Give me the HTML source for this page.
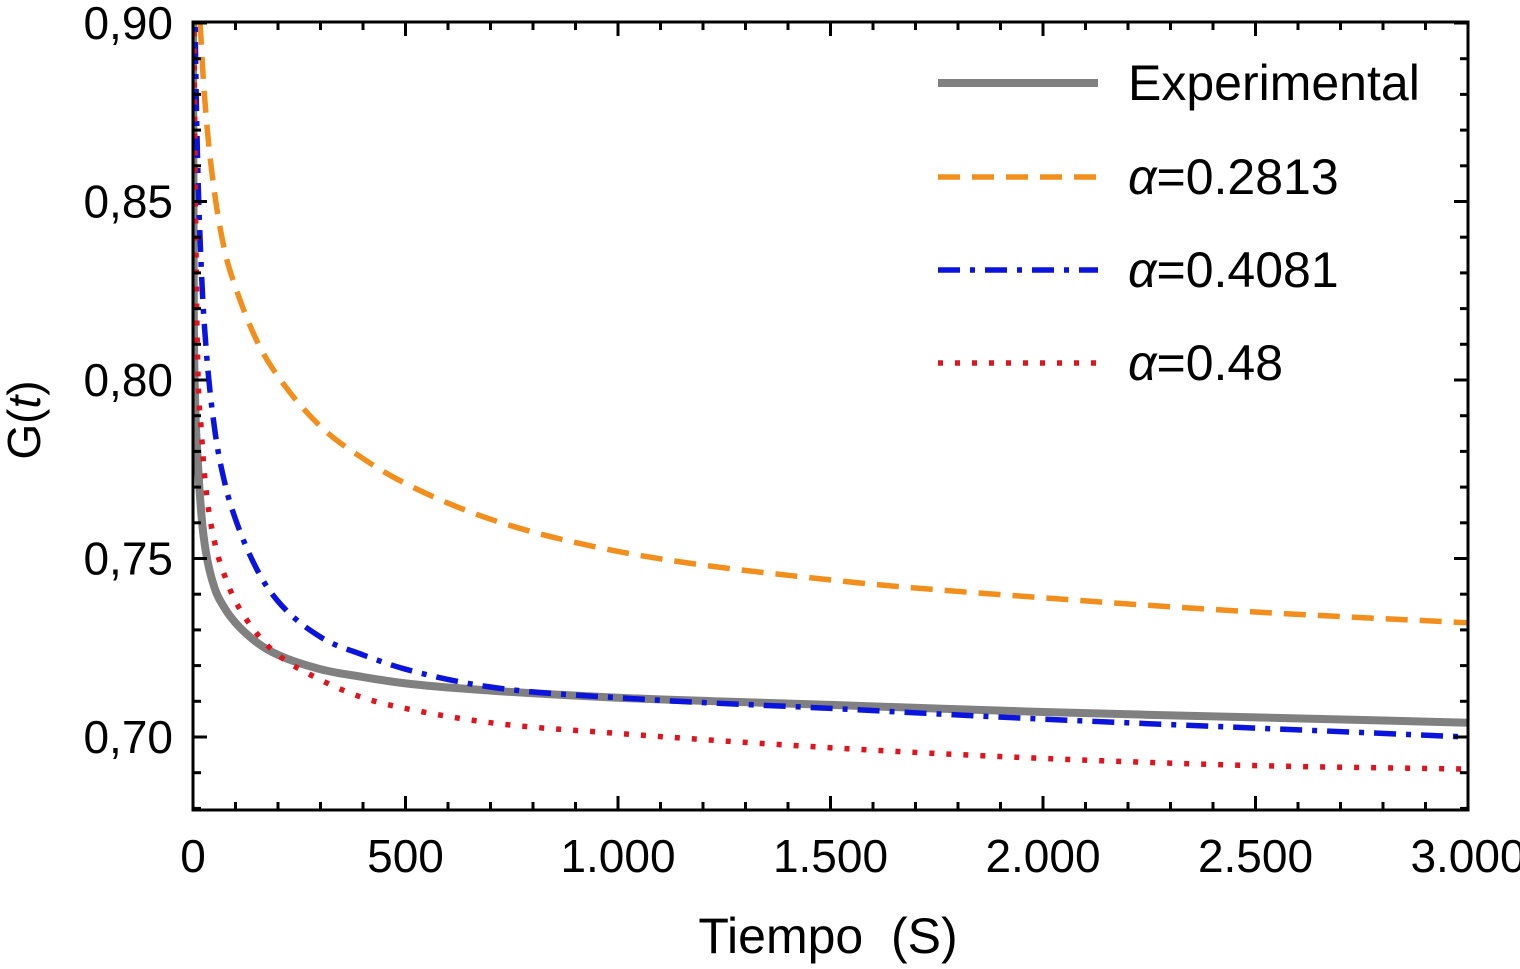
<!DOCTYPE html>
<html><head><meta charset="utf-8"><style>
html,body{margin:0;padding:0;background:#fff;}
svg text{font-family:"Liberation Sans",Arial,sans-serif;fill:#000;}
</style></head><body>
<svg id="chart" width="1520" height="964" xmlns="http://www.w3.org/2000/svg">
<defs><clipPath id="clip"><rect x="193" y="22" width="1275" height="788"/></clipPath></defs>
<g id="series" clip-path="url(#clip)"></g>
<g id="axes"></g>
<g id="legend"></g>
<text x="828" y="953" font-size="50" text-anchor="middle" xml:space="preserve">Tiempo  (S)</text>
<text transform="translate(40,420) rotate(-90)" font-size="46" text-anchor="middle">G(<tspan font-style="italic">t</tspan>)</text>
</svg>
<script>
const times = [0, 2, 5, 10, 20, 30, 50, 75, 100, 150, 200, 300, 400, 500, 700, 1000, 1500, 2000, 2500, 3000];
const experimental = [0.90, 0.82, 0.795, 0.78, 0.762, 0.752, 0.742, 0.736, 0.732, 0.7265, 0.723, 0.719, 0.7168, 0.715, 0.713, 0.711, 0.709, 0.707, 0.7055, 0.704];
const alpha2813 = [1.1, 1.0, 0.95, 0.92, 0.893, 0.875, 0.853, 0.836, 0.826, 0.811, 0.801, 0.787, 0.778, 0.771, 0.761, 0.752, 0.744, 0.739, 0.735, 0.732];
const alpha4081 = [1.0, 0.93, 0.9, 0.865, 0.83, 0.81, 0.787, 0.771, 0.761, 0.747, 0.738, 0.728, 0.723, 0.719, 0.714, 0.711, 0.708, 0.705, 0.7025, 0.700];
const alpha48 = [0.95, 0.9, 0.86, 0.81, 0.785, 0.77, 0.755, 0.745, 0.738, 0.729, 0.723, 0.716, 0.711, 0.708, 0.704, 0.701, 0.697, 0.694, 0.692, 0.691];
const xTicks = [0, 500, 1000, 1500, 2000, 2500, 3000];
const xTickLabels = ["0", "500", "1.000", "1.500", "2.000", "2.500", "3.000"];
const yTicks = [0.70, 0.75, 0.80, 0.85, 0.90];
const yTickLabels = ["0,70", "0,75", "0,80", "0,85", "0,90"];
const legendLabels = ["Experimental", "=0.2813", "=0.4081", "=0.48"];

const NS = "http://www.w3.org/2000/svg";
const L = 193, R = 1468, T = 22, B = 810;
const xs = t => L + t / 3000 * (R - L);
const ys = v => 737 - (v - 0.70) * 3570;
function mk(tag, attrs, parent) { const e = document.createElementNS(NS, tag); for (const k in attrs) e.setAttribute(k, attrs[k]); parent.appendChild(e); return e; }

function monotonePath(px, py) {
  const n = px.length, d = [], m = [];
  for (let i = 0; i < n - 1; i++) d.push((py[i + 1] - py[i]) / (px[i + 1] - px[i]));
  m[0] = d[0]; m[n - 1] = d[n - 2];
  for (let i = 1; i < n - 1; i++) m[i] = (d[i - 1] * d[i] <= 0) ? 0 : (d[i - 1] + d[i]) / 2;
  for (let i = 0; i < n - 1; i++) {
    if (d[i] === 0) { m[i] = 0; m[i + 1] = 0; continue; }
    const a = m[i] / d[i], b = m[i + 1] / d[i], s = a * a + b * b;
    if (s > 9) { const tt = 3 / Math.sqrt(s); m[i] = tt * a * d[i]; m[i + 1] = tt * b * d[i]; }
  }
  let p = "M" + px[0].toFixed(1) + "," + py[0].toFixed(1);
  for (let i = 0; i < n - 1; i++) {
    const h = (px[i + 1] - px[i]) / 3;
    p += " C" + (px[i] + h).toFixed(1) + "," + (py[i] + m[i] * h).toFixed(1) + " " +
         (px[i + 1] - h).toFixed(1) + "," + (py[i + 1] - m[i + 1] * h).toFixed(1) + " " +
         px[i + 1].toFixed(1) + "," + py[i + 1].toFixed(1);
  }
  return p;
}

const styles = [
  {data: experimental, color: "#808080", w: 8, dash: "", name: "experimental-line"},
  {data: alpha2813, color: "#f28e1c", w: 5.5, dash: "22 12", name: "alpha-0.2813-line"},
  {data: alpha4081, color: "#0a14dc", w: 5.5, dash: "22 10 5 10", name: "alpha-0.4081-line"},
  {data: alpha48, color: "#e0141e", w: 5.5, dash: "5 12", name: "alpha-0.48-line"}
];
const sg = document.getElementById("series");
styles.forEach(s => {
  const px = times.map(xs), py = s.data.map(ys);
  const p = mk("path", {d: monotonePath(px, py), fill: "none", stroke: s.color, "stroke-width": s.w, "stroke-dasharray": s.dash, "stroke-linejoin": "round"}, sg);
  
  
});

const ax = document.getElementById("axes");
const frame = mk("rect", {x: L, y: T, width: R - L, height: B - T, fill: "none", stroke: "#000", "stroke-width": 3}, ax);


for (let t = 0; t <= 3000; t += 100) {
  const x = xs(t), len = t % 500 === 0 ? 14 : 8;
  mk("line", {x1: x, x2: x, y1: B, y2: B - len, stroke: "#000", "stroke-width": 3}, ax);
  mk("line", {x1: x, x2: x, y1: T, y2: T + len, stroke: "#000", "stroke-width": 3}, ax);
}
for (let k = 68; k <= 90; k++) {
  const v = k / 100, y = ys(v), len = k % 5 === 0 ? 14 : 8;
  if (y < T - 1 || y > B) continue;
  mk("line", {x1: L, x2: L + len, y1: y, y2: y, stroke: "#000", "stroke-width": 3}, ax);
  mk("line", {x1: R, x2: R - len, y1: y, y2: y, stroke: "#000", "stroke-width": 3}, ax);
}
xTicks.forEach((t, i) => {
  const e = mk("text", {x: xs(t), y: 872, "font-size": 46, "text-anchor": "middle"}, ax);
  e.textContent = xTickLabels[i];
  
  
});
yTicks.forEach((v, i) => {
  const e = mk("text", {x: 173, y: ys(v) + 16, "font-size": 46, "text-anchor": "end"}, ax);
  e.textContent = yTickLabels[i];
  
  
});

const lg = document.getElementById("legend");
const rows = [83, 177, 270, 363];
styles.forEach((s, i) => {
  const ln = mk("line", {x1: 938, x2: 1098, y1: rows[i], y2: rows[i], stroke: s.color, "stroke-width": s.w, "stroke-dasharray": s.dash}, lg);
  
  
  const tx = mk("text", {x: 1128, y: rows[i] + 17, "font-size": 50}, lg);
  
  
  if (i > 0) { const a = mk("tspan", {"font-style": "italic"}, tx); a.textContent = "α"; const b = mk("tspan", {}, tx); b.textContent = legendLabels[i]; }
  else tx.textContent = legendLabels[i];
});
</script>
</body></html>
